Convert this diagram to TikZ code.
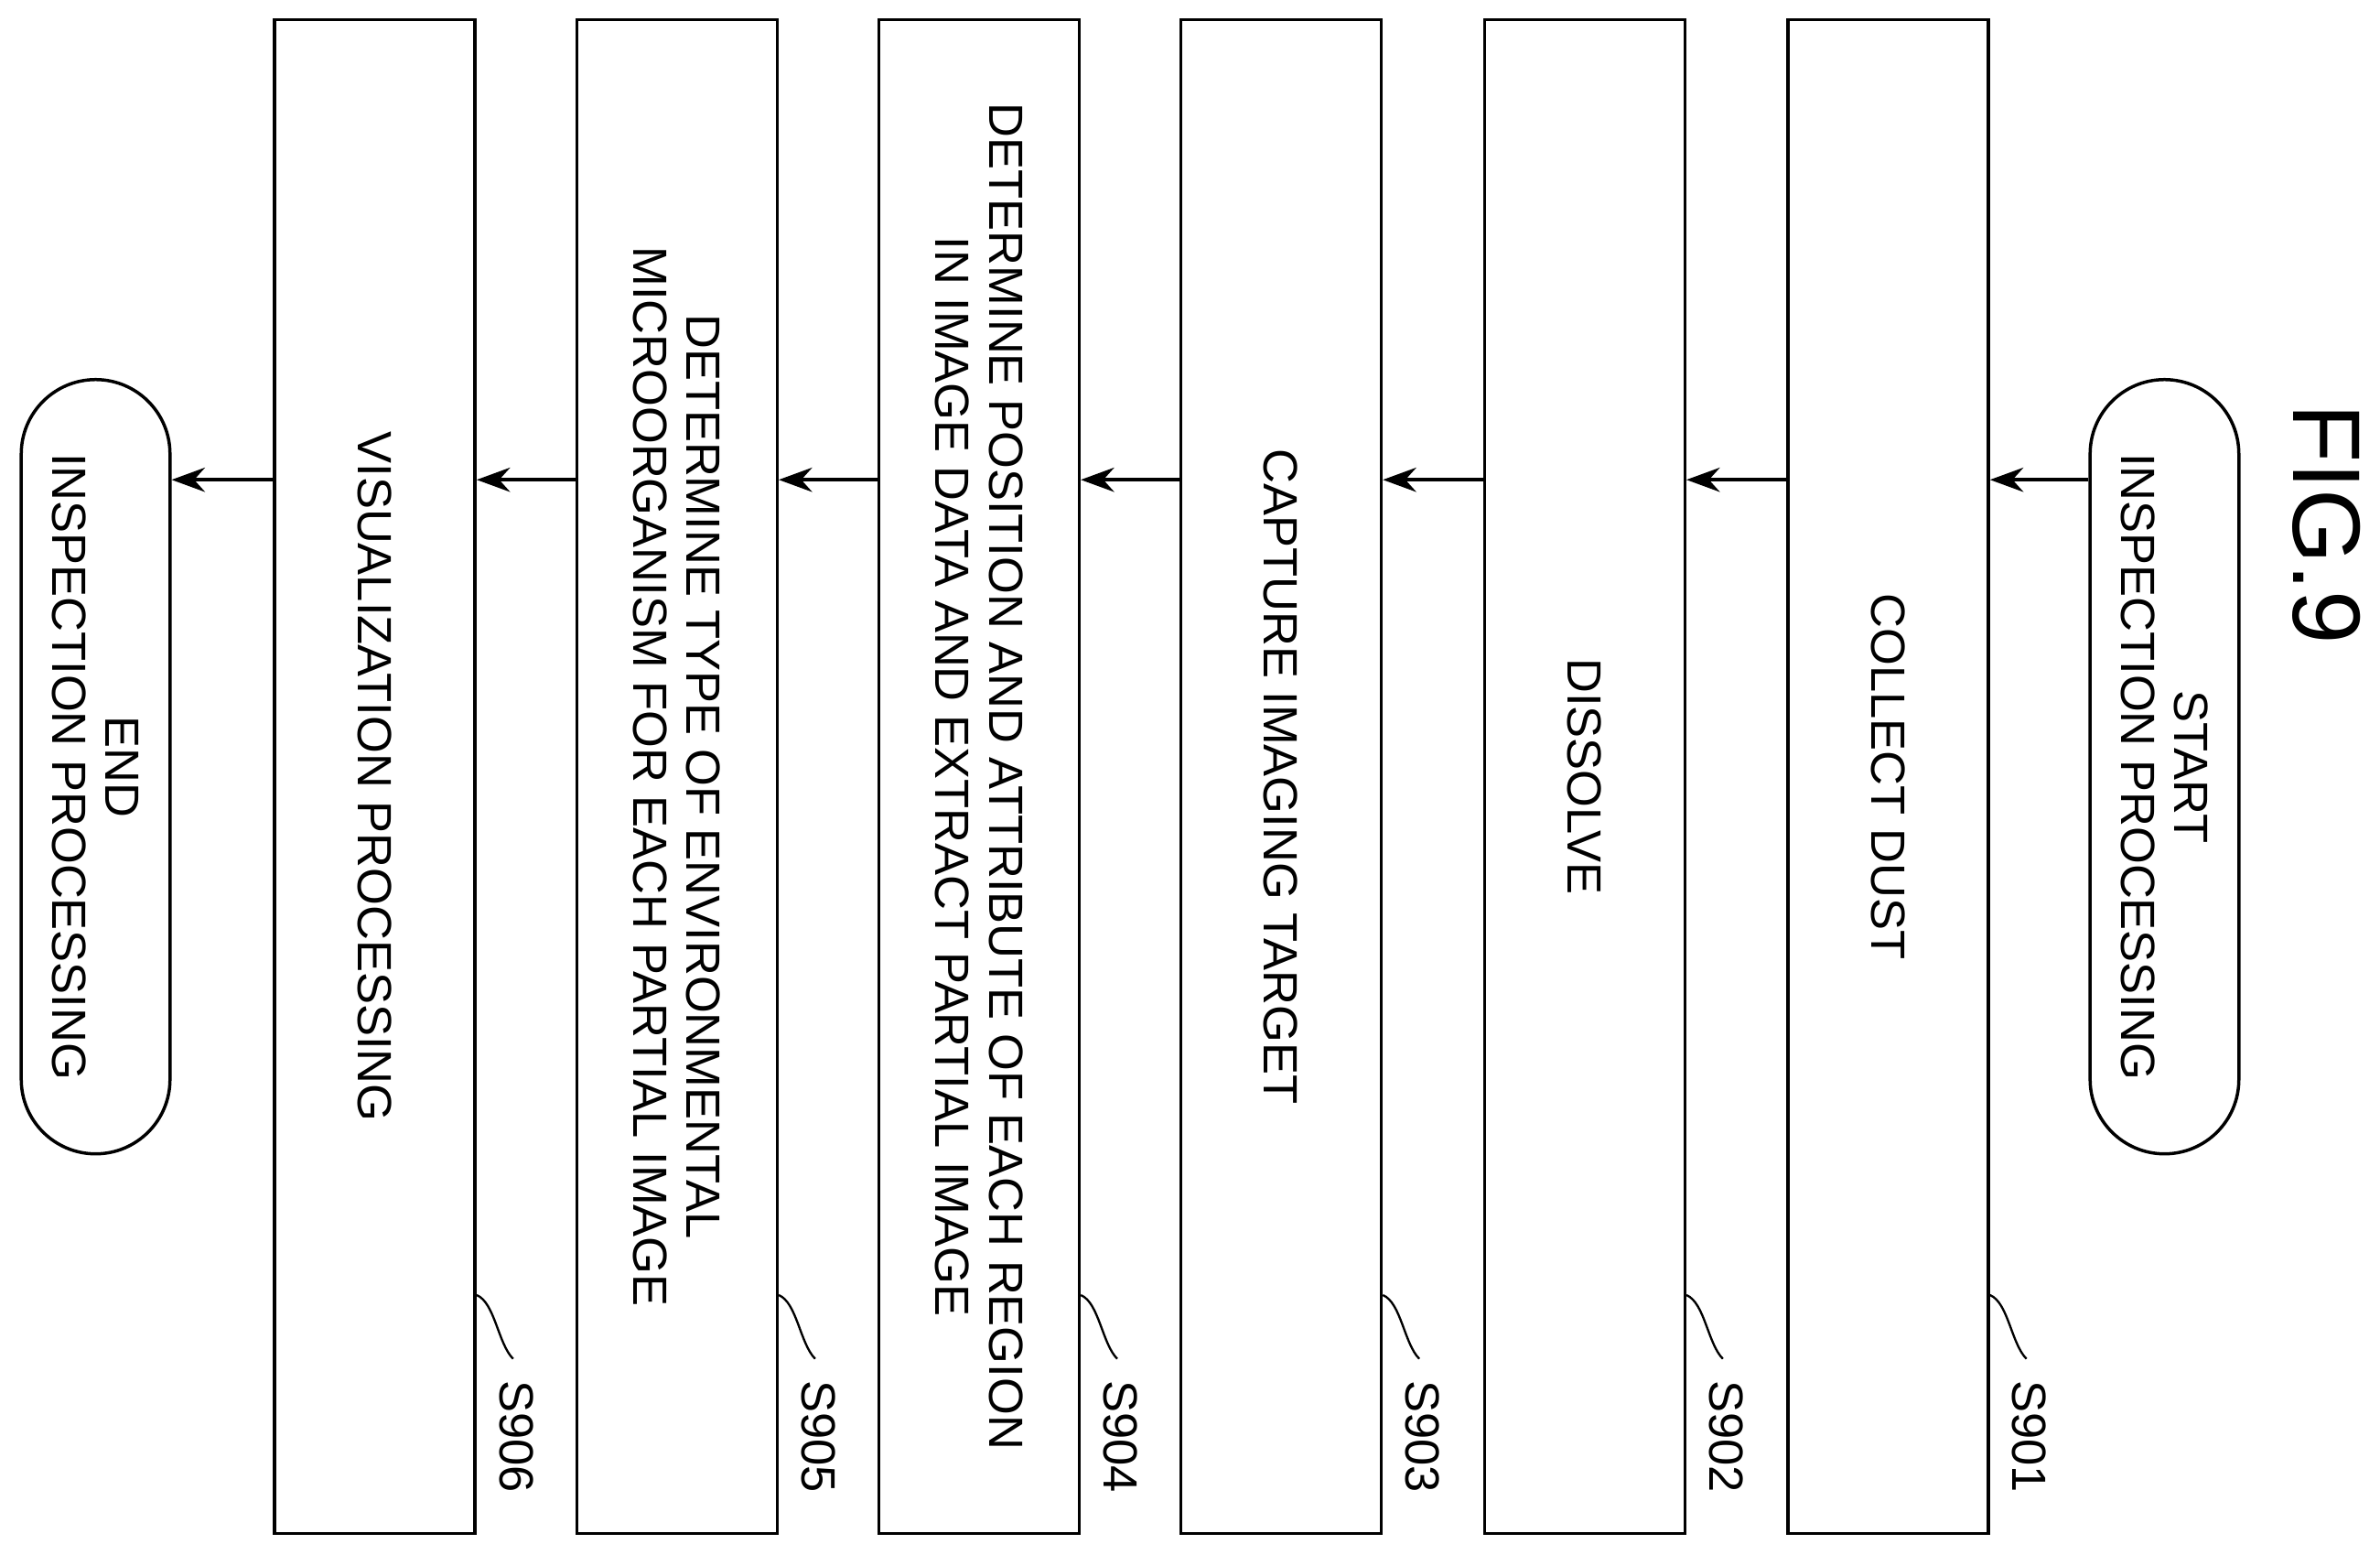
\documentclass[tikz,border=0pt]{standalone}
\usepackage{fontspec}
\setmainfont{Liberation Sans}
\usetikzlibrary{arrows.meta}
\tikzset{
  stepbox/.style={rectangle, draw=black, line width=0.6pt, rotate=-90, minimum width=9.97cm, minimum height=1.32cm, align=center, font=\fontsize{9}{10}\selectfont, inner sep=0pt},
  term/.style={rectangle, rounded corners=0.49cm, draw=black, line width=0.6pt, rotate=-90, minimum width=5.1cm, minimum height=0.98cm, align=center, font=\fontsize{9}{10}\selectfont, inner sep=0pt},
  arrow/.style={line width=0.6pt, -{Stealth[length=2.2mm, width=1.6mm]}},
  tag/.style={rotate=-90, font=\fontsize{9}{10}\selectfont}
}
\begin{document}
\begin{tikzpicture}
\useasboundingbox (0,0) rectangle (15.68,-10.24);
% title
\node (fig) [rotate=-90, font=\fontsize{18}{20}\selectfont] at (15.33,-3.45) {FIG.9};
% terminals
\node (start) [term] at (14.26,-5.05) {START\\INSPECTION PROCESSING};
\node (end) [term] at (0.63,-5.05) {END\\INSPECTION PROCESSING};
% steps
\node (s901) [stepbox] at (12.44,-5.115) {COLLECT DUST};
\node (s902) [stepbox] at (10.44,-5.115) {DISSOLVE};
\node (s903) [stepbox] at (8.44,-5.115) {CAPTURE IMAGING TARGET};
\node (s904) [stepbox] at (6.45,-5.115) {DETERMINE POSITION AND ATTRIBUTE OF EACH REGION\\IN IMAGE DATA AND EXTRACT PARTIAL IMAGE};
\node (s905) [stepbox] at (4.46,-5.115) {DETERMINE TYPE OF ENVIRONMENTAL\\MICROORGANISM FOR EACH PARTIAL IMAGE};
\node (s906) [stepbox] at (2.47,-5.115) {VISUALIZATION PROCESSING};
% step numbers
\foreach \n in {901,...,906} {
  \coordinate (a\n) at ([yshift=-3.415cm]s\n.north);
  \draw [line width=0.4pt] (a\n) .. controls +(0.12,-0.05) and +(-0.1,0.1) .. ++(0.24,-0.42) coordinate (b\n);
  \node [tag, anchor=west] at ([xshift=0.02cm,yshift=-0.02cm]b\n) {S\n};
}
% arrows
\coordinate (row) at (0,-3.16);
\draw [arrow] (start.south |- row) -- (s901.north |- row);
\draw [arrow] (s901.south |- row) -- (s902.north |- row);
\draw [arrow] (s902.south |- row) -- (s903.north |- row);
\draw [arrow] (s903.south |- row) -- (s904.north |- row);
\draw [arrow] (s904.south |- row) -- (s905.north |- row);
\draw [arrow] (s905.south |- row) -- (s906.north |- row);
\draw [arrow] (s906.south |- row) -- (end.north |- row);
\end{tikzpicture}
\end{document}
